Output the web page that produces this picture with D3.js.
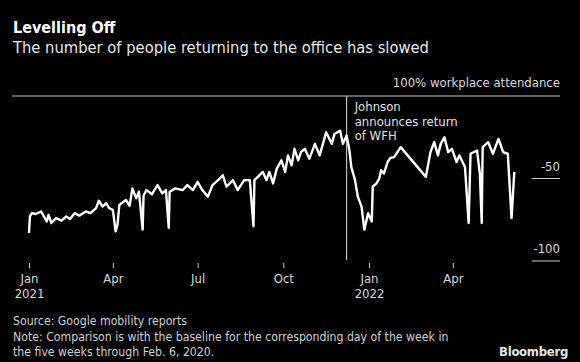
<!DOCTYPE html>
<html>
<head>
<meta charset="utf-8">
<script src="https://cdn.jsdelivr.net/npm/d3@7"></script>
<style>
  html, body { margin: 0; padding: 0; background: #000; }
  svg { display: block; }
  text { font-family: "DejaVu Sans Condensed", "DejaVu Sans", sans-serif; }
</style>
</head>
<body>
<svg id="chart" width="580" height="362"></svg>
<script>
// ---- data ----
const dates = [
"2021-01-01","2021-01-02","2021-01-04","2021-01-08","2021-01-14","2021-01-20","2021-01-22","2021-01-25","2021-01-30",
"2021-02-05","2021-02-10","2021-02-14","2021-02-19","2021-02-24",
"2021-03-03","2021-03-08","2021-03-14","2021-03-17","2021-03-21","2021-03-25","2021-03-28",
"2021-04-01","2021-04-04","2021-04-06","2021-04-08","2021-04-15","2021-04-19","2021-04-22","2021-04-26","2021-04-29",
"2021-05-03","2021-05-04","2021-05-07","2021-05-13","2021-05-19","2021-05-24","2021-05-28","2021-05-31",
"2021-06-01","2021-06-07","2021-06-15","2021-06-20","2021-06-26",
"2021-07-01","2021-07-06","2021-07-12","2021-07-17","2021-07-23","2021-07-28",
"2021-08-01","2021-08-08","2021-08-13","2021-08-20","2021-08-26","2021-08-30","2021-08-31",
"2021-09-09","2021-09-13","2021-09-16","2021-09-20","2021-09-24","2021-09-29",
"2021-10-03","2021-10-06","2021-10-10","2021-10-13","2021-10-17","2021-10-20","2021-10-24","2021-10-29",
"2021-11-04","2021-11-09","2021-11-16","2021-11-22","2021-11-25",
"2021-12-01","2021-12-04","2021-12-08","2021-12-11","2021-12-13","2021-12-17","2021-12-20","2021-12-24","2021-12-27","2021-12-31",
"2022-01-04","2022-01-05","2022-01-09","2022-01-12","2022-01-14","2022-01-17","2022-01-21","2022-01-24","2022-01-28","2022-01-31",
"2022-02-04","2022-03-03","2022-03-08","2022-03-12","2022-03-16","2022-03-19","2022-03-23","2022-03-27","2022-03-31",
"2022-04-05","2022-04-08","2022-04-14","2022-04-18","2022-04-20","2022-04-27","2022-04-30",
"2022-05-02","2022-05-03","2022-05-09","2022-05-14","2022-05-20","2022-05-25","2022-05-30",
"2022-06-03","2022-06-06"
];
const values = [
-83,-73,-71,-71.5,-70,-76,-72,-77,-74,
-75.5,-73,-74.5,-71,-72.5,
-70,-71,-68,-63.5,-67,-65,-68,
-69,-82,-78,-66,-63,-66.5,-56,-62,-58,
-81,-60.5,-57,-59.5,-54,-59,-57,-80,
-58,-56,-57,-54,-57,
-52,-57,-61,-54,-51,-48,
-55,-51,-57,-51,-51,-79,-51,
-46,-51,-46,-53,-44,-39,
-46,-36,-42,-32,-39,-34,-32,-38,
-29,-36,-22,-29,-23,
-21,-29,-24,-33,-43,-51,-61,-67,-81,-71,
-76,-55,-53,-50,-45,-47,-40,-37.5,-37,-34.5,
-31,-49,-34,-28,-36,-29,-25,-34,-32,
-40,-36,-43,-77,-35,-33,-47,
-77,-31,-28,-35,-26,-34,-35,
-74,-46
];
const xTicks = ["2021-01-01","2021-04-01","2021-07-01","2021-10-01","2022-01-01","2022-04-01"];
const yTicks = [-50, -100];
const annotationDate = "2021-12-08";
const annotationLines = ["Johnson", "announces return", "of WFH"];
const title = "Levelling Off";
const subtitle = "The number of people returning to the office has slowed";
const topLabel = "100% workplace attendance";
const footer = ["Source: Google mobility reports",
  "Note: Comparison is with the baseline for the corresponding day of the week in",
  "the five weeks through Feb. 6, 2020."];

// ---- drawing ----
const parse = d3.utcParse("%Y-%m-%d");
const data = dates.map((d, i) => ({ date: parse(d), value: values[i] }));

const svg = d3.select("#chart");
const x = d3.scaleUtc().domain([parse("2021-01-01"), parse("2022-01-01")]).range([29, 369]);
const y = d3.scaleLinear().domain([0, -100]).range([96, 261]);

// header
svg.append("text").attr("x", 13).attr("y", 33).attr("fill", "#fff")
  .attr("font-size", 16).attr("font-weight", "bold").text(title);
svg.append("text").attr("x", 13).attr("y", 53).attr("fill", "#e8e8e8")
  .attr("font-size", 16.4).text(subtitle);

// zero line with label
svg.append("line").attr("x1", 12).attr("x2", 560).attr("y1", y(0)).attr("y2", y(0))
  .attr("stroke", "#c8c8c8").attr("stroke-width", 1);
svg.append("text").attr("x", 560).attr("y", y(0) - 9).attr("text-anchor", "end")
  .attr("fill", "#d8d8d8").attr("font-size", 13).text(topLabel);

// right axis ticks
const yg = svg.append("g");
yTicks.forEach(t => {
  yg.append("line").attr("x1", 532).attr("x2", 560).attr("y1", y(t)).attr("y2", y(t))
    .attr("stroke", "#c8c8c8").attr("stroke-width", 1);
  yg.append("text").attr("x", 560).attr("y", y(t) - 8).attr("text-anchor", "end")
    .attr("fill", "#d8d8d8").attr("font-size", 13).text(t);
});

// x axis
const xAxis = d3.axisBottom(x).tickValues(xTicks.map(parse)).tickSize(5).tickPadding(6)
  .tickFormat(d3.utcFormat("%b"));
const xg = svg.append("g").attr("transform", "translate(0,263)").call(xAxis);
xg.select(".domain").remove();
xg.selectAll(".tick line").attr("stroke", "#c8c8c8");
xg.selectAll(".tick text").attr("fill", "#d8d8d8").attr("font-size", 13)
  .attr("font-family", null).attr("dy", "0.71em");
xg.selectAll(".tick").each(function(d) {
  if (d.getUTCMonth() === 0) {
    d3.select(this).append("text").attr("y", 11 + 15).attr("dy", "0.71em")
      .attr("text-anchor", "middle").attr("fill", "#d8d8d8").attr("font-size", 13)
      .text(d3.utcFormat("%Y")(d));
  }
});
xg.attr("font-family", null);

// annotation line
const ax = x(parse(annotationDate));
svg.append("line").attr("x1", ax).attr("x2", ax).attr("y1", y(0)).attr("y2", 260)
  .attr("stroke", "#e0e0e0").attr("stroke-width", 1);
const at = svg.append("text").attr("x", ax + 8).attr("y", 111).attr("fill", "#e0e0e0").attr("font-size", 13);
annotationLines.forEach((l, i) => {
  at.append("tspan").attr("x", ax + 8).attr("dy", i === 0 ? 0 : 14.5).text(l);
});

// data line
const line = d3.line().x(d => x(d.date)).y(d => y(d.value));
svg.append("path").datum(data).attr("d", line)
  .attr("fill", "none").attr("stroke", "#fff").attr("stroke-width", 2.4)
  .attr("stroke-linejoin", "round");

// footer
footer.forEach((f, i) => {
  svg.append("text").attr("x", 13).attr("y", 325 + i * 15.5).attr("fill", "#d0d0d0")
    .attr("font-size", 12.2).text(f);
});
svg.append("text").attr("x", 568).attr("y", 356).attr("text-anchor", "end")
  .attr("fill", "#e6e6e6").attr("font-size", 13).attr("font-weight", "bold")
  .attr("font-family", "'Liberation Sans', Arial, sans-serif").attr("letter-spacing", -0.3)
  .text("Bloomberg");
</script>
</body>
</html>
